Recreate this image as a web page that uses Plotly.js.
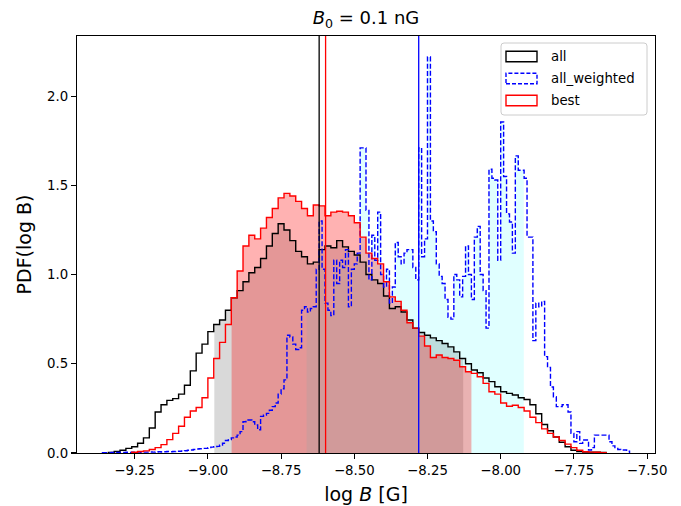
<!DOCTYPE html>
<html><head><meta charset="utf-8">
<script src="https://cdn.plot.ly/plotly-3.0.1.min.js"></script>
<style>body{margin:0;background:#fff}#chart{width:681px;height:506px}</style>
</head><body><div id="chart"></div>
<script>
// ---- data ----
const seriesNames = ["all", "all_weighted", "best"];
const seriesColors = ["black", "blue", "red"];

const allStart = -9.34, allWidth = 0.02;
const allValues = [0.003,0.008,0.015,0.026,0.035,0.055,0.085,0.14,0.23,0.27,
 0.295,0.305,0.33,0.38,0.46,0.56,0.61,0.68,0.72,0.745,
 0.80,0.87,0.91,0.96,1.01,1.04,1.09,1.16,1.23,1.285,
 1.25,1.19,1.13,1.10,1.06,1.07,1.14,1.16,1.15,1.19,
 1.155,1.13,1.11,1.07,1.00,0.97,0.95,0.88,0.81,0.82,
 0.79,0.745,0.70,0.675,0.66,0.645,0.63,0.614,0.595,0.567,
 0.53,0.50,0.465,0.45,0.42,0.40,0.371,0.343,0.334,0.325,
 0.31,0.30,0.27,0.22,0.16,0.125,0.09,0.06,0.035,0.015,
 0.008,0.006,0.005,0.004,0.003];

const bestStart = -9.26, bestWidth = 0.02;
const bestValues = [0.004,0.008,0.012,0.02,0.03,0.047,0.075,0.11,0.15,0.2,
 0.235,0.255,0.31,0.42,0.53,0.62,0.72,0.87,1.02,1.16,
 1.22,1.20,1.26,1.32,1.37,1.43,1.455,1.44,1.41,1.37,
 1.33,1.39,1.385,1.33,1.35,1.355,1.35,1.33,1.29,1.21,
 1.12,1.09,1.06,0.96,0.875,0.85,0.80,0.73,0.70,0.655,
 0.60,0.535,0.549,0.535,0.53,0.52,0.483,0.455,0.446,0.427,
 0.39,0.343,0.33,0.28,0.262,0.268,0.255,0.235,0.20,0.17,
 0.135,0.11,0.09,0.07,0.05,0.03,0.015,0.007,0.005,0.004,
 0.002];

const weightedStart = -9.36, weightedWidth = 0.01;
const weightedValues = [
 0.002,0.002,0.002,0.003,0.002,0.003,0.003,0.003,0.004,0.003,0.004,0.004,0.005,0.004,0.005,0.005,
 0.006,0.005,0.006,0.007,0.006,0.007,0.008,0.007,0.008,0.009,
 0.010,0.012,0.013,0.015,0.017,0.02,0.022,0.024,0.026,0.026,
 0.03,0.033,0.035,0.037,0.045,0.055,
 0.07,0.075,0.085,0.09,0.10,0.12,0.175,0.185,0.185,0.175,
 0.157,0.13,0.205,0.213,0.222,0.24,0.26,0.28,0.33,0.36,
 0.41,0.66,0.65,0.61,0.58,0.59,0.80,0.82,0.79,0.81,
 0.82,1.03,1.30,1.03,0.84,0.80,0.77,1.08,0.95,1.08,
 1.04,1.14,0.82,1.03,1.06,1.12,1.71,1.71,1.36,0.97,
 1.22,1.08,1.35,1.0,0.93,1.03,0.84,0.93,1.18,1.10,
 1.06,1.12,1.14,1.14,1.04,0.97,1.71,1.10,1.20,2.22,
 1.30,1.24,1.06,0.99,0.95,0.86,0.76,0.75,1.0,0.97,
 0.875,0.99,1.16,1.0,0.86,1.21,1.27,1.0,0.91,0.70,
 1.59,1.54,1.53,1.08,1.855,1.55,1.34,1.295,1.12,1.665,
 1.585,1.585,1.54,1.21,1.21,0.63,0.84,0.82,0.85,0.54,
 0.48,0.37,0.315,0.26,0.26,0.27,0.27,0.23,0.11,0.063,
 0.12,0.054,0.073,0.073,0.017,0.03,0.10,0.10,0.10,0.10,
 0.10,0.063,0.04,0.026,0.02,0.017,0.017,0.01];

// medians (vertical lines) and shaded intervals, per series order above
const medianValues = [-8.620, -8.280, -8.598];
const intervalLow  = [-8.978, -8.663, -8.919];
const intervalHigh = [-8.128, -7.921, -8.100];
const fillColors = ["rgba(128,128,128,0.3)", "rgba(0,255,255,0.12)", "rgba(255,0,0,0.3)"];

// ---- helpers ----
const r4 = v => Math.round(v * 10000) / 10000;
function stepXY(start, width, vals) {
  const x = [start], y = [0];
  vals.forEach((v, i) => { x.push(r4(start + i * width)); y.push(v); });
  x.push(r4(start + vals.length * width)); y.push(0);
  return {x, y};
}
function fillXY(start, width, vals, lo, hi) {
  let i0 = Math.floor((lo - start) / width + 1e-9);
  const x = [lo], y = [vals[i0]];
  let i = i0 + 1;
  while (i < vals.length && r4(start + i * width) < hi) {
    x.push(r4(start + i * width)); y.push(vals[i]); i++;
  }
  x.push(hi); y.push(vals[i - 1]);
  return {x, y};
}

const hists = [
  [allStart, allWidth, allValues],
  [weightedStart, weightedWidth, weightedValues],
  [bestStart, bestWidth, bestValues]
];

const traces = [];
// fills
hists.forEach((h, k) => {
  const f = fillXY(h[0], h[1], h[2], intervalLow[k], intervalHigh[k]);
  traces.push({x: f.x, y: f.y, type: "scatter", mode: "lines", fill: "tozeroy",
    fillcolor: fillColors[k], line: {width: 0, shape: "hv"}, hoverinfo: "skip", showlegend: false});
});
// step outlines
hists.forEach((h, k) => {
  const s = stepXY(h[0], h[1], h[2]);
  traces.push({x: s.x, y: s.y, type: "scatter", mode: "lines", name: seriesNames[k],
    line: {color: seriesColors[k], width: 1.4, shape: "hv", dash: k === 1 ? "5px,2.2px" : "solid"},
    showlegend: false});
});

// ---- layout ----
const L = 77, T = 36, W = 578, H = 417;
const px = v => (v - L) / W, py = v => (T + H - v) / H;

const shapes = medianValues.map((m, k) => ({type: "line", xref: "x", yref: "paper",
  x0: m, x1: m, y0: 0, y1: 1, layer: "above", line: {color: seriesColors[k], width: 1.3}}));

// legend frame
(function () {
  const x0 = px(501), x1 = px(647), y0 = py(115), y1 = py(43);
  const rx = 3 / W, ry = 3 / H;
  shapes.push({type: "path", xref: "paper", yref: "paper", layer: "above",
    path: `M ${x0+rx},${y1} L ${x1-rx},${y1} Q ${x1},${y1} ${x1},${y1-ry} L ${x1},${y0+ry} Q ${x1},${y0} ${x1-rx},${y0} L ${x0+rx},${y0} Q ${x0},${y0} ${x0},${y0+ry} L ${x0},${y1-ry} Q ${x0},${y1} ${x0+rx},${y1} Z`,
    fillcolor: "rgba(255,255,255,0.8)", line: {color: "#cccccc", width: 1}});
})();
const rowCenters = [56.5, 78.5, 100.5];
const annotations = [];
seriesNames.forEach((n, k) => {
  shapes.push({type: "rect", xref: "paper", yref: "paper", layer: "above",
    x0: px(506), x1: px(537), y0: py(rowCenters[k] + 5.2), y1: py(rowCenters[k] - 5.2),
    fillcolor: "rgba(0,0,0,0)", line: {color: seriesColors[k], width: 1.4, dash: k === 1 ? "4px,2px" : "solid"}});
  annotations.push({xref: "paper", yref: "paper", x: px(549), y: py(rowCenters[k]), text: n,
    showarrow: false, xanchor: "left", yanchor: "middle",
    font: {family: "DejaVu Sans", size: 13.3, color: "black"}});
});

const axisCommon = {showline: true, mirror: true, linecolor: "black", linewidth: 1.1,
  ticks: "outside", ticklen: 5, tickwidth: 1.1, tickcolor: "black",
  showgrid: false, zeroline: false,
  tickfont: {family: "DejaVu Sans", size: 13.3, color: "black"}};

const layout = {
  width: 681, height: 506,
  margin: {l: L, r: 681 - L - W, t: T, b: 506 - T - H},
  paper_bgcolor: "white", plot_bgcolor: "white",
  showlegend: false,
  font: {family: "DejaVu Sans", color: "black"},
  title: {text: "<i>B</i><sub>0</sub> = 0.1 nG", x: 0.5, xref: "paper", xanchor: "center",
    y: 1 - 18 / 506, yref: "container", yanchor: "middle",
    font: {family: "DejaVu Sans", size: 18, color: "black"}},
  xaxis: Object.assign({}, axisCommon, {
    range: [-9.447, -7.473], tickmode: "array",
    tickvals: [-9.25, -9.0, -8.75, -8.5, -8.25, -8.0, -7.75, -7.5], tickformat: ".2f",
    title: {text: "log <i>B</i> [G]", standoff: 10, font: {family: "DejaVu Sans", size: 19, color: "black"}}
  }),
  yaxis: Object.assign({}, axisCommon, {
    range: [0, 2.337], tickmode: "array",
    tickvals: [0, 0.5, 1.0, 1.5, 2.0], tickformat: ".1f",
    title: {text: "PDF(log B)", standoff: 10, font: {family: "DejaVu Sans", size: 19, color: "black"}}
  }),
  shapes: shapes,
  annotations: annotations
};

Plotly.newPlot("chart", traces, layout, {displayModeBar: false, staticPlot: true});
</script>
</body></html>
